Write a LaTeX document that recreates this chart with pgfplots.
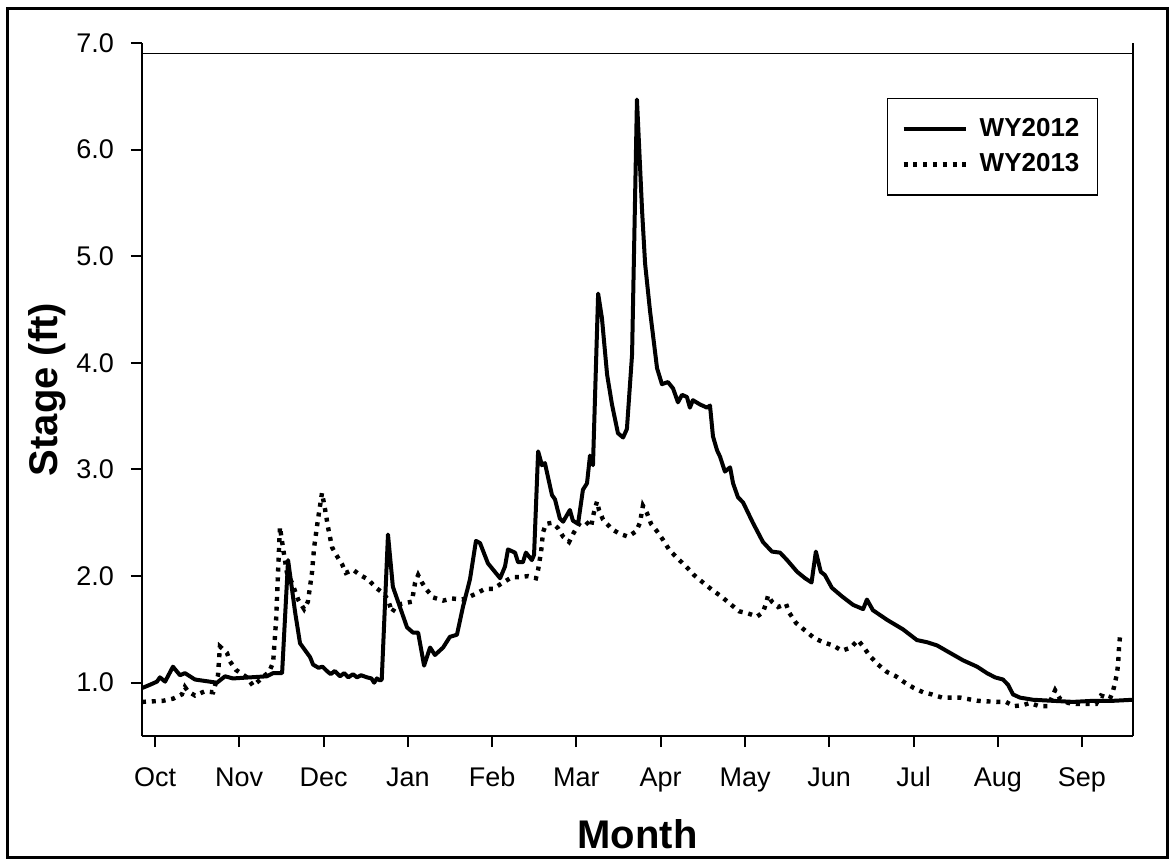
\documentclass[border=0pt]{standalone}
\usepackage{fontspec}
\setmainfont{Liberation Sans}
\usepackage{pgfplots}
\pgfplotsset{compat=1.18}

% daily stage, x = day of water year (0 = 1 Oct)
\pgfplotstableread{
day stage
0 0.95
2.9 0.98
5.5 1.01
6.6 1.05
8.5 1.01
11.4 1.15
14.0 1.07
15.8 1.09
19.5 1.03
27.6 1.00
30.6 1.06
33.5 1.04
46.0 1.06
48.3 1.09
51.6 1.09
53.8 2.15
56.4 1.66
58.2 1.37
61.9 1.24
63.0 1.17
65.0 1.14
66.5 1.15
68.1 1.11
69.5 1.08
71.0 1.11
72.9 1.06
74.5 1.09
76.0 1.05
77.7 1.08
79.2 1.05
80.7 1.07
82.9 1.05
84.5 1.04
85.5 1.00
86.5 1.04
87.7 1.02
88.3 1.03
90.6 2.39
92.4 1.90
95.0 1.71
97.6 1.52
99.8 1.47
101.7 1.47
103.9 1.16
106.1 1.33
107.9 1.26
110.9 1.33
113.4 1.43
116.0 1.45
118.2 1.71
120.8 1.97
123.0 2.33
124.5 2.31
127.4 2.12
131.9 1.98
133.7 2.09
134.8 2.25
137.4 2.22
138.5 2.13
140.3 2.13
141.4 2.22
143.6 2.15
144.4 2.20
145.9 3.17
147.3 3.04
148.4 3.06
151.0 2.76
152.1 2.72
153.9 2.54
155.1 2.51
157.6 2.62
158.7 2.52
160.6 2.49
162.4 2.81
163.9 2.87
165.0 3.13
166.1 3.04
168.0 4.65
169.4 4.42
171.3 3.89
173.1 3.61
175.3 3.34
177.2 3.30
178.6 3.38
180.5 4.08
182.3 6.47
184.2 5.42
185.3 4.93
187.1 4.49
189.7 3.95
191.5 3.80
193.7 3.82
195.6 3.76
197.4 3.63
198.9 3.70
200.7 3.68
201.8 3.58
202.9 3.65
205.5 3.61
208.1 3.58
209.2 3.60
210.3 3.31
211.8 3.18
212.9 3.12
214.7 2.98
216.6 3.02
217.7 2.87
219.5 2.74
221.4 2.69
225.0 2.50
228.7 2.32
232.0 2.23
235.0 2.22
237.6 2.15
241.3 2.04
244.2 1.98
246.6 1.94
248.2 2.23
250.0 2.04
251.5 2.01
254.1 1.89
257.8 1.81
261.9 1.73
265.6 1.69
267.0 1.78
269.2 1.68
274.4 1.59
280.3 1.50
285.4 1.40
289.1 1.38
292.8 1.35
297.6 1.28
302.4 1.21
307.6 1.15
311.2 1.09
314.2 1.05
317.1 1.03
319.0 0.98
320.8 0.89
323.4 0.86
328.2 0.84
335.5 0.83
342.9 0.82
350.3 0.83
357.6 0.83
365.0 0.84
}\wyA

\pgfplotstableread{
day stage
0 0.82
7.7 0.83
11.4 0.85
14.7 0.89
15.8 0.96
16.9 0.92
19.5 0.88
23.2 0.92
26.2 0.91
28.0 1.07
28.7 1.34
31.3 1.28
32.4 1.20
34.6 1.12
38.7 1.05
40.9 0.97
42.7 1.01
45.3 1.07
46.8 1.10
48.3 1.19
49.4 1.59
50.1 2.03
50.8 2.46
51.9 2.27
53.4 2.03
55.2 1.94
57.5 1.78
59.7 1.69
61.1 1.76
62.6 2.03
63.4 2.27
64.8 2.53
66.3 2.78
67.4 2.63
68.5 2.46
70.0 2.27
71.5 2.20
73.7 2.11
75.1 2.03
77.7 2.06
80.3 2.01
83.2 1.97
86.2 1.89
88.8 1.84
90.6 1.78
92.1 1.66
93.9 1.73
99.4 1.76
100.6 1.94
101.7 2.01
103.1 1.94
104.6 1.88
107.2 1.80
110.9 1.77
114.2 1.79
117.9 1.78
120.1 1.80
123.4 1.84
126.3 1.88
129.3 1.88
133.0 1.94
136.3 1.99
139.2 1.99
142.2 2.00
145.1 1.98
145.9 2.06
147.0 2.23
147.7 2.41
148.8 2.49
151.0 2.50
153.2 2.45
155.1 2.37
157.3 2.32
159.1 2.41
161.3 2.50
163.5 2.51
165.4 2.46
166.1 2.56
166.9 2.64
167.6 2.70
168.3 2.62
169.8 2.53
173.1 2.44
175.7 2.40
179.0 2.37
182.0 2.42
183.4 2.50
184.5 2.66
186.0 2.59
187.5 2.49
189.7 2.42
191.9 2.34
194.1 2.25
197.1 2.17
200.4 2.09
203.3 2.01
206.6 1.94
210.0 1.87
213.3 1.81
216.6 1.74
219.9 1.67
223.2 1.65
226.5 1.62
228.7 1.66
229.8 1.74
230.6 1.82
232.0 1.76
234.3 1.71
237.2 1.74
238.3 1.66
240.9 1.56
244.2 1.49
247.5 1.42
250.8 1.38
254.5 1.35
257.8 1.30
261.1 1.33
263.7 1.40
265.6 1.34
268.1 1.25
271.1 1.17
274.4 1.10
277.7 1.06
281.0 1.00
284.3 0.95
287.7 0.91
291.0 0.89
294.7 0.86
301.3 0.86
307.9 0.83
314.9 0.82
318.2 0.82
321.2 0.78
324.5 0.79
327.1 0.81
330.4 0.78
333.7 0.78
336.3 0.93
338.1 0.85
341.1 0.81
344.4 0.80
348.1 0.80
351.4 0.80
353.2 0.88
356.5 0.85
357.6 0.92
358.4 1.00
359.1 1.09
359.5 1.17
359.9 1.35
360.2 1.43
}\wyB

\begin{document}
\begin{tikzpicture}
% page size and outer frame
\path[fill=white] (0,0) rectangle (586.5pt,-431pt);
\draw[line width=1.5pt] (3.5pt,-4pt) rectangle (583.5pt,-428.5pt);

\begin{axis}[
  at={(71pt,-368pt)}, anchor=south west,
  scale only axis,
  width=495.5pt, height=346.5pt,
  xmin=0, xmax=365,
  ymin=0.5, ymax=7,
  axis lines*=left,
  axis line style={line width=1pt},
  every tick/.style={line width=1pt, black},
  tick align=outside,
  major tick length=5.5pt,
  xtick={4.8,35.8,66.9,97.9,129.0,160.0,191.0,222.1,253.1,284.2,315.2,346.2},
  xticklabels={Oct,Nov,Dec,Jan,Feb,Mar,Apr,May,Jun,Jul,Aug,Sep},
  ytick={1,2,3,4,5,6,7},
  yticklabels={1.0,2.0,3.0,4.0,5.0,6.0,7.0},
  /pgf/number format/assume math mode=true,
  tick label style={font=\fontsize{13.5}{16}\selectfont},
  xticklabel style={yshift=-6pt, text height=10pt, text depth=3pt},
  yticklabel style={xshift=-5pt},
  xlabel={\textbf{Month}},
  ylabel={\textbf{Stage (ft)}},
  label style={font=\fontsize{20}{24}\selectfont},
  xlabel style={at={(axis description cs:0.5,-0.1414)}, anchor=center},
  ylabel style={at={(axis description cs:-0.0959,0.5)}, anchor=center},
  legend style={at={(0.9647,0.9206)}, anchor=north east, draw=black,
    line width=0.6pt, font=\bfseries\fontsize{13}{16}\selectfont,
    inner xsep=7pt, inner ysep=8pt, row sep=3pt},
  legend cell align=left,
  legend image code/.code={\draw[#1] (0pt,0pt) -- (31pt,0pt); \path (35pt,0pt);},
  clip=false,
]
\addplot[black, line width=2pt, line join=round] table[x=day, y=stage] {\wyA};
\addlegendentry{WY2012}
\addplot[black, line width=2.2pt, dash pattern=on 2pt off 2.9pt] table[x=day, y=stage] {\wyB};
\addlegendentry{WY2013}
% top and right lines of the frame as drawn in the original
\draw[line width=0.8pt] (axis cs:0,6.9) -- (axis cs:365,6.9);
\draw[line width=1pt] (axis cs:365,7) -- (axis cs:365,0.5);
\end{axis}
\end{tikzpicture}
\end{document}
